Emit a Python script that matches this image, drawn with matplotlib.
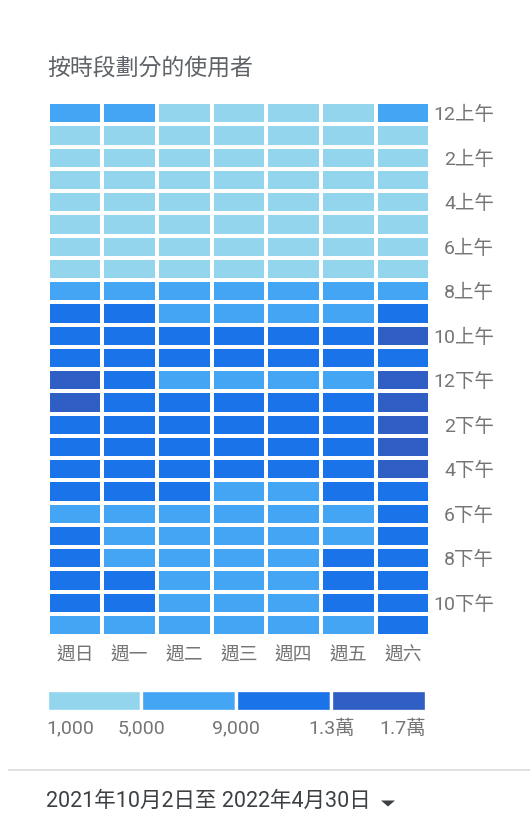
import numpy as np
import matplotlib
matplotlib.use("Agg")
import matplotlib.pyplot as plt
from matplotlib.colors import ListedColormap, BoundaryNorm
from matplotlib.lines import Line2D
from matplotlib.patches import Polygon

plt.rcParams["font.family"] = ["Roboto", "Noto Sans CJK TC", "DejaVu Sans"]

# data
days = ["週日", "週一", "週二", "週三", "週四", "週五", "週六"]
hour_labels = ["12上午", "2上午", "4上午", "6上午", "8上午", "10上午",
               "12下午", "2下午", "4下午", "6下午", "8下午", "10下午"]

# users per hour (rows, 12am..11pm) and weekday (cols, Sun..Sat), estimated
users = [
    [6200, 5600, 4300, 4200, 4300, 4600, 6800],
    [4200, 3300, 2900, 2900, 3000, 3200, 4800],
    [2800, 2200, 2000, 2000, 2100, 2200, 3200],
    [2000, 1600, 1500, 1500, 1500, 1600, 2200],
    [1600, 1400, 1300, 1300, 1300, 1400, 1700],
    [1500, 1500, 1500, 1500, 1500, 1500, 1600],
    [2000, 2400, 2400, 2400, 2400, 2300, 2100],
    [3200, 4200, 4300, 4300, 4200, 4000, 3400],
    [5600, 6800, 6900, 6900, 6700, 6400, 5800],
    [9600, 9300, 8600, 8500, 8400, 8200, 10200],
    [12000, 10800, 9800, 9700, 9600, 9500, 13600],
    [12800, 11200, 10000, 9900, 9800, 9700, 12900],
    [13500, 10500, 8800, 8700, 8600, 8500, 14200],
    [14000, 11500, 9800, 9700, 9600, 9400, 14500],
    [12900, 11600, 10200, 10100, 10000, 9800, 14300],
    [12700, 11800, 10300, 10200, 10100, 9900, 14000],
    [12300, 11500, 9900, 9700, 9600, 9700, 13300],
    [11200, 10200, 9100, 8900, 8800, 9200, 12400],
    [8800, 8700, 8000, 7900, 7800, 8300, 10900],
    [9300, 8800, 7900, 7800, 7700, 8600, 10800],
    [10000, 8900, 8100, 8000, 7800, 9200, 11200],
    [10800, 9300, 8500, 8400, 8200, 9600, 11400],
    [10600, 9400, 8600, 8500, 8300, 9500, 11000],
    [8400, 7800, 7000, 6900, 6800, 7400, 9200],
]

bounds = [1000, 5000, 9000, 13000, 17000]
bound_labels = ["1,000", "5,000", "9,000", "1.3萬", "1.7萬"]
colors = ["#93d5ed", "#45a5f5", "#1a73e8", "#2f5ec4"]

W, H = 530, 825
fig = plt.figure(figsize=(W / 100, H / 100), dpi=100)

def box(x0, y0, x1, y1):
    # pixel box (top-left origin) -> figure fraction
    return [x0 / W, 1 - y1 / H, (x1 - x0) / W, (y1 - y0) / H]

cmap = ListedColormap(colors)
norm = BoundaryNorm(bounds, cmap.N)
data = np.array(users)

# heatmap
ax = fig.add_axes(box(47.5, 102.2, 430.2, 636))
ax.pcolormesh(data, cmap=cmap, norm=norm, edgecolors="white", linewidth=2.7)
ax.set_xlim(0, len(days))
ax.set_ylim(len(users), 0)
for s in ax.spines.values():
    s.set_visible(False)

ax.set_xticks(np.arange(len(days)) + 0.5)
ax.set_xticklabels(days, fontsize=13.5, color="#757575")
ax.set_yticks(np.arange(0, 24, 2) + 0.5)
ax.set_yticklabels(hour_labels, fontsize=14, color="#757575", ha="right")
ax.yaxis.tick_right()
ax.tick_params(axis="both", length=0)
ax.tick_params(axis="x", pad=7.5)
ax.tick_params(axis="y", pad=46)

# title
fig.text(47 / W, 1 - 68 / H, "按時段劃分的使用者", fontsize=16.5,
         color="#5f6368", ha="left", va="center")

# legend
lax = fig.add_axes(box(46.5, 690, 426, 711))
lefts = bounds[:-1]
widths = np.diff(bounds)
lax.barh(0, widths, left=lefts, height=1, color=colors,
         edgecolor="white", linewidth=2.4)
lax.set_xlim(bounds[0], bounds[-1])
lax.set_ylim(-0.5, 0.5)
lax.set_yticks([])
for s in lax.spines.values():
    s.set_visible(False)
lax.set_xticks(bounds)
lax.set_xticklabels(bound_labels, fontsize=14, color="#757575")
lax.tick_params(axis="x", length=0, pad=6)
tl = lax.get_xticklabels()
tl[0].set_ha("left")
tl[-1].set_ha("right")

# separator and date range
fig.add_artist(Line2D([9 / W, 1], [1 - 770 / H, 1 - 770 / H],
                      color="#dadce0", linewidth=1.2))
fig.text(46 / W, 1 - 801 / H, "2021年10月2日至 2022年4月30日", fontsize=15.5,
         color="#3c4043", ha="left", va="center")
# dropdown arrow
tri = [(381 / W, 1 - 800.5 / H), (395 / W, 1 - 800.5 / H), (388 / W, 1 - 806.5 / H)]
fig.add_artist(Polygon(tri, closed=True, transform=fig.transFigure,
                       facecolor="#3c4043", edgecolor="none"))

fig.savefig("out.png", dpi=100)
